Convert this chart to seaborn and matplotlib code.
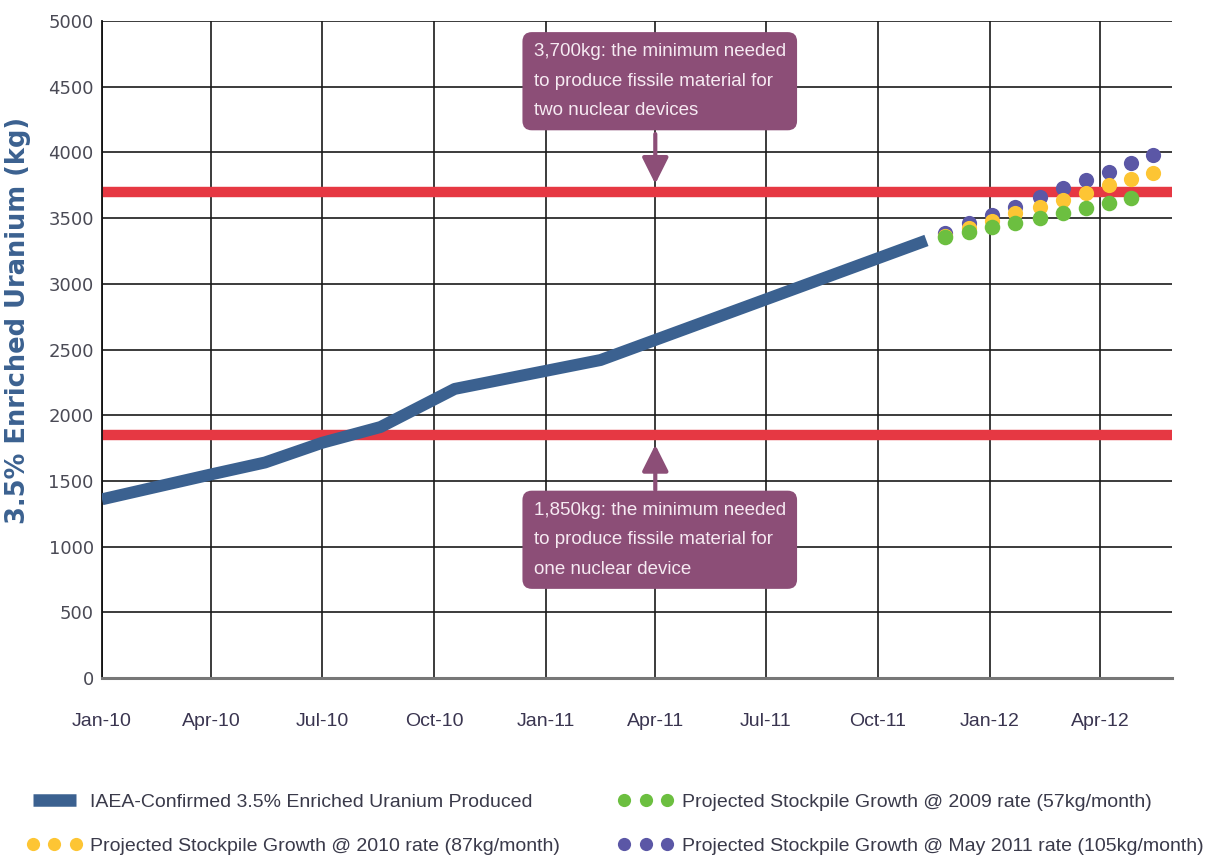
import matplotlib.dates as mdates
import matplotlib.pyplot as plt
import pandas as pd
import seaborn as sns
from matplotlib.lines import Line2D

# IAEA-confirmed stockpile
confirmed_dates = ["2010-01-01", "2010-04-01", "2010-05-15", "2010-07-01", "2010-08-18",
                   "2010-10-18", "2011-02-15", "2011-11-10"]
confirmed_kg = [1360, 1550, 1640, 1790, 1910, 2200, 2420, 3330]

# projected growth, one dot every ~19 days
proj_dates = ["2011-11-25", "2011-12-15", "2012-01-03", "2012-01-22", "2012-02-11",
              "2012-03-01", "2012-03-20", "2012-04-08", "2012-04-26", "2012-05-14"]
proj_2009_kg = [3356, 3394, 3432, 3463, 3501, 3539, 3577, 3615, 3653]
proj_2010_kg = [3364, 3425, 3478, 3539, 3584, 3638, 3691, 3752, 3798, 3843]
proj_2011_kg = [3387, 3463, 3524, 3584, 3661, 3729, 3790, 3851, 3919, 3980]

thresholds = [3700, 1850]
notes = ["3,700kg: the minimum needed\nto produce fissile material for\ntwo nuclear devices",
         "1,850kg: the minimum needed\nto produce fissile material for\none nuclear device"]

labels = ["IAEA-Confirmed 3.5% Enriched Uranium Produced",
          "Projected Stockpile Growth @ 2010 rate (87kg/month)",
          "Projected Stockpile Growth @ 2009 rate (57kg/month)",
          "Projected Stockpile Growth @ May 2011 rate (105kg/month)"]

BLUE = "#3b6190"
RED = "#e63843"
PURPLE = "#8c4e77"
C2009, C2010, C2011 = "#6cbf40", "#fdc534", "#5b57a6"
NARROW = ["Liberation Sans", "DejaVu Sans"]

sns.set_style("white")
plt.rcParams["font.family"] = ["DejaVu Sans"]

confirmed = pd.DataFrame({"date": pd.to_datetime(confirmed_dates), "kg": confirmed_kg})
p09 = pd.DataFrame({"date": pd.to_datetime(proj_dates[:len(proj_2009_kg)]), "kg": proj_2009_kg})
p10 = pd.DataFrame({"date": pd.to_datetime(proj_dates), "kg": proj_2010_kg})
p11 = pd.DataFrame({"date": pd.to_datetime(proj_dates), "kg": proj_2011_kg})

fig = plt.figure(figsize=(12.19, 8.65), dpi=100)
ax = fig.add_axes([0.0837, 0.2162, 0.8778, 0.7595])

for t in thresholds:
    ax.axhline(t, color=RED, lw=7.5, zorder=2)

sns.lineplot(data=confirmed, x="date", y="kg", ax=ax, color=BLUE, lw=8.6,
             solid_joinstyle="round", solid_capstyle="butt", zorder=3)
sns.scatterplot(data=p11, x="date", y="kg", ax=ax, color=C2011, s=120, linewidth=0, zorder=4)
sns.scatterplot(data=p10, x="date", y="kg", ax=ax, color=C2010, s=120, linewidth=0, zorder=5)
sns.scatterplot(data=p09, x="date", y="kg", ax=ax, color=C2009, s=125, linewidth=0, zorder=6)

ax.set_xlim(pd.Timestamp("2010-01-01"), pd.Timestamp("2012-05-30"))
ax.set_ylim(0, 5000)
ax.set_yticks(range(0, 5001, 500))

ax.xaxis.set_major_locator(mdates.MonthLocator(bymonth=[1, 4, 7, 10]))
ax.xaxis.set_major_formatter(mdates.DateFormatter("%b-%y"))
ax.xaxis.set_minor_locator(mdates.MonthLocator())
ax.grid(True, which="major", color="#1a1a1a", lw=1.2, zorder=1)
ax.set_axisbelow(True)

ax.tick_params(axis="x", which="major", direction="out", length=7, width=1.3,
               color="#333333", pad=18, labelsize=14, labelcolor="#3a3550")
ax.tick_params(axis="x", which="minor", direction="in", length=6, width=1.3, color="#333333")
ax.tick_params(axis="y", length=0, pad=6, labelsize=13, labelcolor="#4a4a55")
for lbl in ax.get_xticklabels():
    lbl.set_family(NARROW)

for side in ["top", "right"]:
    ax.spines[side].set_visible(False)
ax.spines["bottom"].set_color("#777777")
ax.spines["bottom"].set_linewidth(2.2)
ax.spines["left"].set_color("#111111")
ax.spines["left"].set_linewidth(1.3)

ax.set_xlabel("")
ax.set_ylabel("3.5% Enriched Uranium (kg)", fontsize=18.5, fontweight="bold", color=BLUE)
ax.yaxis.set_label_coords(-0.066, 0.545)

# callout boxes with arrows pointing at the threshold lines
note_x = pd.Timestamp("2010-12-22")
arrow_x = pd.Timestamp("2011-04-01")
box_top = [4830, 1340]
arrow_from = [4140, 1431]
arrow_to = [3760, 1775]
for note, top, a0, a1 in zip(notes, box_top, arrow_from, arrow_to):
    ax.text(note_x, top, note, family=NARROW, fontsize=13.5, color="#f6eaf2", va="top", ha="left",
            linespacing=1.95, zorder=7,
            bbox=dict(boxstyle="round,pad=0.6,rounding_size=0.5", fc=PURPLE, ec="none"))
    ax.annotate("", xy=(arrow_x, a1), xytext=(arrow_x, a0), zorder=7,
                arrowprops=dict(arrowstyle="-|>,head_width=0.4,head_length=0.8", lw=3,
                                color=PURPLE, shrinkA=0, shrinkB=0, mutation_scale=20))

handles = [Line2D([], [], color=BLUE, lw=9, solid_capstyle="butt"),
           Line2D([], [], color=C2010, ls="none", marker="o", ms=9.5, mew=0),
           Line2D([], [], color=C2009, ls="none", marker="o", ms=9.5, mew=0),
           Line2D([], [], color=C2011, ls="none", marker="o", ms=9.5, mew=0)]
fig.legend(handles, labels, ncol=2, loc="upper left", bbox_to_anchor=(0.008, 0.103),
           frameon=False, numpoints=3, handlelength=2.8, handletextpad=0.45,
           columnspacing=3.0, labelspacing=1.35, markerscale=1.0,
           prop={"family": NARROW, "size": 14.0}, labelcolor="#3a3a4a")

fig.savefig("out.png", dpi=100)
